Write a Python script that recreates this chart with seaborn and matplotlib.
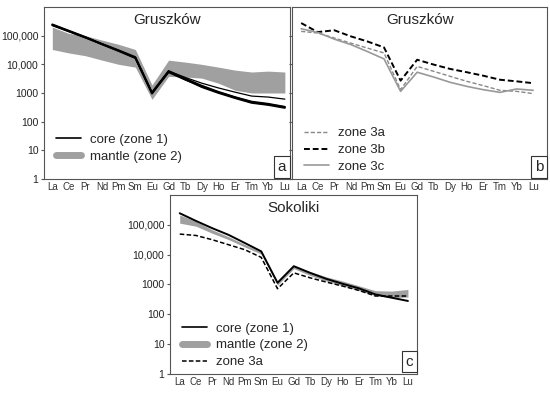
import numpy as np
import pandas as pd
import matplotlib
matplotlib.use("Agg")
import matplotlib.pyplot as plt
import seaborn as sns
from matplotlib.lines import Line2D
from matplotlib.ticker import FixedLocator, FuncFormatter

# REE elements (x axis)
elements = ["La", "Ce", "Pr", "Nd", "Pm", "Sm", "Eu", "Gd", "Tb", "Dy", "Ho", "Er", "Tm", "Yb", "Lu"]

# Gruszkow - panel a
gr_core_1 = [250000, 150000, 90000, 50000, 30000, 17000, 1000, 5600, 3000, 1600, 1000, 660, 450, 380, 300]
gr_core_2 = [240000, 145000, 88000, 52000, 31000, 18000, 1050, 5900, 3200, 1800, 1100, 720, 500, 420, 330]
gr_core_3 = [230000, 140000, 85000, 50000, 29000, 16500, 950, 5300, 2900, 1700, 1050, 700, 480, 400, 320]
gr_core_4 = [235000, 142000, 86000, 51000, 30000, 17000, 1000, 5800, 3500, 2200, 1500, 1070, 780, 720, 610]
gr_mantle_hi = [200000, 120000, 100000, 70000, 50000, 33000, 1900, 14000, 12000, 10000, 8000, 6300, 5400, 5800, 5400]
gr_mantle_lo = [33000, 25000, 20000, 14000, 10000, 8000, 600, 3800, 3600, 3300, 2200, 1250, 1000, 1000, 1000]

# Gruszkow - panel b
gr_zone3a = [142000, 124000, 83000, 55000, 37000, 25000, 1300, 8500, 5700, 3800, 2550, 1800, 1240, 1140, 950]
gr_zone3b = [277000, 134000, 155000, 95000, 63000, 39000, 2700, 14500, 9800, 6900, 5300, 4000, 2900, 2550, 2200]
gr_zone3c = [175000, 130000, 76000, 49000, 28000, 15500, 1140, 5300, 3600, 2350, 1700, 1300, 1050, 1380, 1240]

# Sokoliki - panel c
so_core = [245000, 135000, 77000, 46000, 24500, 12900, 1140, 4100, 2450, 1540, 1050, 740, 465, 360, 280]
so_mantle_hi = [215000, 130000, 68000, 40000, 22000, 12500, 1200, 4200, 2700, 1800, 1300, 900, 620, 600, 680]
so_mantle_lo = [114000, 90000, 52000, 32000, 18000, 10500, 950, 3400, 2000, 1300, 900, 620, 420, 360, 380]
so_zone3a = [49000, 44000, 31600, 21500, 14600, 8100, 720, 2450, 1670, 1200, 880, 630, 410, 410, 410]

sns.set_style("white")
plt.rcParams["font.family"] = ["Liberation Sans", "DejaVu Sans"]

x = np.arange(len(elements))


def long_df(series):
    rows = []
    for name, vals in series.items():
        for i, v in enumerate(vals):
            rows.append({"pos": i, "value": v, "series": name})
    return pd.DataFrame(rows)


def style_axis(ax, title, letter, ylabels=True, xlim=(-0.5, 14.3)):
    ax.set_yscale("log")
    ax.set_ylim(1, 1e6)
    ax.set_xlim(*xlim)
    ax.set_xticks(x)
    ax.set_xticklabels(elements, fontsize=7, color="#333333")
    ax.yaxis.set_major_locator(FixedLocator([1, 10, 100, 1000, 10000, 100000]))
    ax.yaxis.set_minor_locator(FixedLocator([]))
    if ylabels:
        ax.yaxis.set_major_formatter(FuncFormatter(lambda v, p: f"{int(v):,}" if v >= 10000 else f"{int(v)}"))
    else:
        ax.yaxis.set_major_formatter(FuncFormatter(lambda v, p: ""))
    ax.tick_params(axis="y", labelsize=7.5, length=2, pad=2, color="#555555", left=True,
                   labelcolor="#222222")
    ax.tick_params(axis="x", length=0, pad=2)
    ax.set_xlabel("")
    ax.set_ylabel("")
    for s in ax.spines.values():
        s.set_color("#555555")
        s.set_linewidth(0.8)
    ax.text(0.5, 0.965, title, transform=ax.transAxes, ha="center", va="top", fontsize=11)
    ax.text(0.985, 0.03, letter, transform=ax.transAxes, ha="right", va="bottom", fontsize=11,
            bbox=dict(boxstyle="square,pad=0.25", fc="white", ec="#333333", lw=0.8))


def add_legend(ax, handles, labels, y0):
    ax.legend(handles=handles, labels=labels, loc="lower left", bbox_to_anchor=(0.01, y0),
              frameon=False, fontsize=9.5, handlelength=1.9, handletextpad=0.7,
              labelspacing=0.35, borderpad=0.2)


fig = plt.figure(figsize=(5.5, 3.94), dpi=100)
ax_a = fig.add_axes([0.080, 0.546, 0.447, 0.436])
ax_b = fig.add_axes([0.531, 0.546, 0.464, 0.436])
ax_c = fig.add_axes([0.309, 0.051, 0.449, 0.454])

# panel a
ax_a.fill_between(x, gr_mantle_lo, gr_mantle_hi, color="#a0a0a0", lw=0, zorder=1)
df_a = long_df({"c1": gr_core_1, "c2": gr_core_2, "c3": gr_core_3, "c4": gr_core_4})
sns.lineplot(data=df_a, x="pos", y="value", units="series", estimator=None, color="black",
             lw=1.3, ax=ax_a, legend=False, zorder=3)
ax_a.lines[-1].set_linewidth(0.9)
style_axis(ax_a, "Gruszków", "a", xlim=(-0.5, 14.3))
add_legend(ax_a, [Line2D([], [], color="black", lw=1.2),
                  Line2D([], [], color="#a0a0a0", lw=5)],
           ["core (zone 1)", "mantle (zone 2)"], 0.04)

# panel b
df_b = long_df({"zone 3a": gr_zone3a, "zone 3b": gr_zone3b, "zone 3c": gr_zone3c})
sns.lineplot(data=df_b, x="pos", y="value", hue="series", style="series",
             palette={"zone 3a": "#888888", "zone 3b": "black", "zone 3c": "#999999"},
             dashes={"zone 3a": (3, 1.5), "zone 3b": (3, 1.5), "zone 3c": ""},
             ax=ax_b, legend=False)
for ln, w in zip(ax_b.lines, [1.0, 1.4, 1.2]):
    ln.set_linewidth(w)
style_axis(ax_b, "Gruszków", "b", ylabels=False, xlim=(-0.55, 14.85))
add_legend(ax_b, [Line2D([], [], color="#888888", lw=1.0, ls=(0, (3, 1.5))),
                  Line2D([], [], color="black", lw=1.4, ls=(0, (3, 1.5))),
                  Line2D([], [], color="#999999", lw=1.2)],
           ["zone 3a", "zone 3b", "zone 3c"], -0.02)

# panel c
ax_c.fill_between(x, so_mantle_lo, so_mantle_hi, color="#a0a0a0", lw=0, zorder=1)
df_c = long_df({"core": so_core, "zone 3a": so_zone3a})
sns.lineplot(data=df_c, x="pos", y="value", hue="series", style="series",
             palette={"core": "black", "zone 3a": "black"},
             dashes={"core": "", "zone 3a": (3, 1.5)}, ax=ax_c, legend=False, zorder=3)
for ln, w in zip(ax_c.lines, [1.4, 1.1]):
    ln.set_linewidth(w)
style_axis(ax_c, "Sokoliki", "c", xlim=(-0.6, 14.55))
add_legend(ax_c, [Line2D([], [], color="black", lw=1.2),
                  Line2D([], [], color="#a0a0a0", lw=5),
                  Line2D([], [], color="black", lw=1.1, ls=(0, (3, 1.5)))],
           ["core (zone 1)", "mantle (zone 2)", "zone 3a"], -0.02)

fig.savefig("out.png", dpi=100)
